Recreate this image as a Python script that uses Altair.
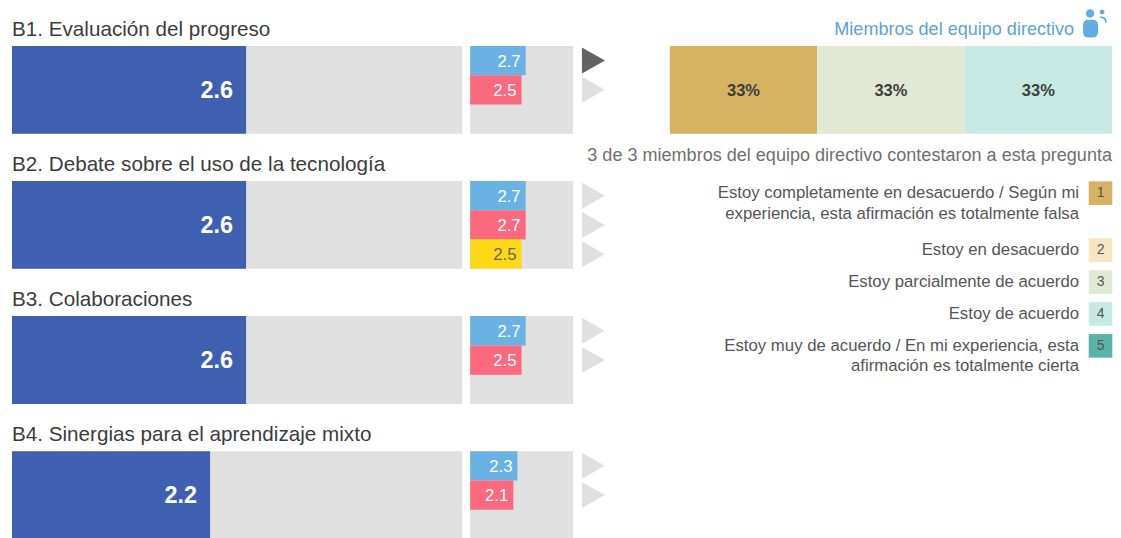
import altair as alt
import pandas as pd

FONT = "Liberation Sans"

# ---- data ----
questions = ["B1. Evaluación del progreso", "B2. Debate sobre el uso de la tecnología",
             "B3. Colaboraciones", "B4. Sinergias para el aprendizaje mixto"]
overall = [2.6, 2.6, 2.6, 2.2]
max_score = 5

group_question = [0, 0, 1, 1, 1, 2, 2, 3, 3]
group_slot = [0, 1, 0, 1, 2, 0, 1, 0, 1]
group_series = ["Directivos", "Profesores", "Directivos", "Profesores", "Alumnos",
                "Directivos", "Profesores", "Directivos", "Profesores"]
group_value = [2.7, 2.5, 2.7, 2.7, 2.5, 2.7, 2.5, 2.3, 2.1]
group_marked = [True, False, False, False, False, False, False, False, False]

series_names = ["Directivos", "Profesores", "Alumnos"]
series_colors = ["#6bb2e4", "#fb697f", "#fcd917"]

answer_level = [1, 3, 4]
answer_share = [0.3333, 0.3334, 0.3333]

legend_levels = [1, 2, 3, 4, 5]
legend_colors = ["#d6b263", "#f6e7c3", "#e1e9d4", "#c6eae3", "#5ab3a8"]
legend_lines = [2, 1, 1, 1, 2]
legend_labels = [
    "Estoy completamente en desacuerdo / Según mi\nexperiencia, esta afirmación es totalmente falsa",
    "Estoy en desacuerdo",
    "Estoy parcialmente de acuerdo",
    "Estoy de acuerdo",
    "Estoy muy de acuerdo / En mi experiencia, esta\nafirmación es totalmente cierta",
]
header_text = "Miembros del equipo directivo"
caption_text = "3 de 3 miembros del equipo directivo contestaron a esta pregunta"

# ---- tables ----
main_df = pd.DataFrame({"q": questions, "v": overall, "top": [max_score] * 4})
group_df = pd.DataFrame({
    "q": [questions[i] for i in group_question],
    "slot": group_slot, "series": group_series, "v": group_value, "marked": group_marked,
})
share = pd.Series(answer_share)
answer_df = pd.DataFrame({
    "bar": ["x"] * 3, "level": answer_level, "share": answer_share,
    "start": share.cumsum() - share, "end": share.cumsum(),
})
answer_df["mid"] = (answer_df["start"] + answer_df["end"]) / 2
lines = pd.Series(legend_lines)
legend_df = pd.DataFrame({
    "level": legend_levels, "label": legend_labels,
    "pos": (lines.cumsum() - lines) + 0.28 * pd.Series(range(5)),
})

# ---- shared scales ----
H = 541
row_scale = alt.Scale(domain=questions, range=[36.5, 530.5], paddingInner=0.3497, paddingOuter=0)
y_row = alt.Y("q:N", scale=row_scale, axis=None)
y_title = alt.Y("q:N", scale=row_scale, axis=None, bandPosition=0)
y_off = alt.YOffset("slot:O", scale=alt.Scale(domain=[0, 1, 2]))
level_scale = alt.Scale(domain=legend_levels, range=legend_colors)

# ---- large bars ----
x_big = lambda f: alt.X(f, scale=alt.Scale(domain=[0, max_score]), axis=None)
big_base = alt.Chart(main_df)
big = alt.layer(
    big_base.mark_bar(color="#e0e0e0").encode(x=x_big("top:Q"), y=y_row),
    big_base.mark_bar(color="#3f5fb0").encode(x=x_big("v:Q"), y=y_row),
    big_base.mark_text(align="right", dx=-13, dy=1, font=FONT, fontSize=23.5, fontWeight="bold", color="white")
    .encode(x=x_big("v:Q"), y=y_row, text=alt.Text("v:Q", format=".1f")),
    big_base.mark_text(align="left", baseline="alphabetic", dy=-10, font=FONT, fontSize=20.7, color="#3c3c3c")
    .encode(x=alt.value(0), y=y_title, text="q:N"),
).properties(width=451, height=H)

# ---- small bars ----
x_small = lambda f: alt.X(f, scale=alt.Scale(domain=[0, max_score]), axis=None)
small = alt.layer(
    alt.Chart(main_df).mark_bar(color="#e0e0e0").encode(x=x_small("top:Q"), y=y_row),
    alt.Chart(group_df).mark_bar().encode(
        x=x_small("v:Q"), y=y_row, yOffset=y_off,
        color=alt.Color("series:N", scale=alt.Scale(domain=series_names, range=series_colors), legend=None),
    ),
    alt.Chart(group_df).mark_text(align="right", dx=-5, dy=1, font=FONT, fontSize=16.8).encode(
        x=x_small("v:Q"), y=y_row, yOffset=y_off,
        text=alt.Text("v:Q", format=".1f"),
        color=alt.condition("datum.series === 'Alumnos'", alt.value("#666666"), alt.value("white")),
    ),
).properties(width=103, height=H)

# ---- right side ----
W = 529
TRI = "M-0.885,-1 L0.885,0 L-0.885,1 Z"
ICON = ("M-0.57,-0.56 A0.26,0.26 0 1 1 -0.05,-0.56 A0.26,0.26 0 1 1 -0.57,-0.56 Z "
        "M-0.4,-0.17 L-0.16,-0.17 Q0.19,-0.17 0.19,0.18 L0.19,0.59 Q0.19,0.94 -0.16,0.94 "
        "L-0.4,0.94 Q-0.75,0.94 -0.75,0.59 L-0.75,0.18 Q-0.75,-0.17 -0.4,-0.17 Z "
        "M0.29,-0.66 A0.15,0.15 0 1 1 0.59,-0.66 A0.15,0.15 0 1 1 0.29,-0.66 Z "
        "M0.31,-0.38 Q0.78,-0.38 0.72,-0.02 L0.62,0.05 Q0.66,-0.28 0.31,-0.28 Z")
HEAD = "#5aa4d6"

triangles = alt.Chart(group_df).mark_point(shape=TRI, filled=True, size=676, opacity=1).encode(
    x=alt.value(9.5), y=y_row, yOffset=y_off,
    color=alt.condition("datum.marked", alt.value("#636363"), alt.value("#e0e0e0")),
)

x_share = alt.Scale(domain=[0, 1], range=[86, W])
y_share = alt.Y("bar:N", scale=alt.Scale(domain=["x"], range=[36.5, 124.5], paddingInner=0, paddingOuter=0), axis=None)
answer_bars = alt.Chart(answer_df).mark_bar().encode(
    x=alt.X("start:Q", scale=x_share, axis=None), x2="end:Q", y=y_share,
    color=alt.Color("level:O", scale=level_scale, legend=None),
)
answer_text = alt.Chart(answer_df).mark_text(dy=1.5, font=FONT, fontSize=16.5, fontWeight="bold", color="#3c3c3c").encode(
    x=alt.X("mid:Q", scale=x_share, axis=None), y=y_share,
    text=alt.Text("share:Q", format=".0%"),
)

head = alt.Chart(pd.DataFrame({"t": [header_text]})).mark_text(
    align="right", baseline="alphabetic", font=FONT, fontSize=18.1, color=HEAD
).encode(x=alt.value(W - 38), y=alt.value(26), text="t:N")
icon = alt.Chart(pd.DataFrame({"t": [header_text]})).mark_point(
    shape=ICON, filled=True, size=1024, opacity=1, color="#62ace2"
).encode(x=alt.value(W - 17), y=alt.value(13))
caption = alt.Chart(pd.DataFrame({"t": [caption_text]})).mark_text(
    align="right", baseline="middle", font=FONT, fontSize=18.1, color="#6f6f6f"
).encode(x=alt.value(W), y=alt.value(147), text="t:N")

y_leg = alt.Y("pos:Q", scale=alt.Scale(domain=[0, 7], range=[184, 359], nice=False, zero=False), axis=None)
leg_text = alt.Chart(legend_df).mark_text(
    align="right", baseline="alphabetic", dy=5, lineBreak="\n", lineHeight=20.5,
    font=FONT, fontSize=16.8, color="#555555"
).encode(x=alt.value(W - 33), y=y_leg, text="label:N")
leg_box = alt.Chart(legend_df).mark_point(shape="square", filled=True, size=560, opacity=1).encode(
    x=alt.value(W - 11.5), y=y_leg, color=alt.Color("level:O", scale=level_scale, legend=None),
)
leg_num = alt.Chart(legend_df).mark_text(font=FONT, fontSize=14, color="#555555").encode(
    x=alt.value(W - 11.5), y=y_leg, text="level:O",
)

right = alt.layer(
    triangles, answer_bars, answer_text, head, icon, caption, leg_text, leg_box, leg_num
).resolve_scale(y="independent", color="independent").properties(width=W, height=H)

chart = alt.hconcat(big, small, right, spacing=8).properties(
    padding={"left": 4, "top": 0, "right": 0, "bottom": 0}
).configure_view(strokeWidth=0)

chart.save("out.html", embed_options={"renderer": "svg", "actions": False})
